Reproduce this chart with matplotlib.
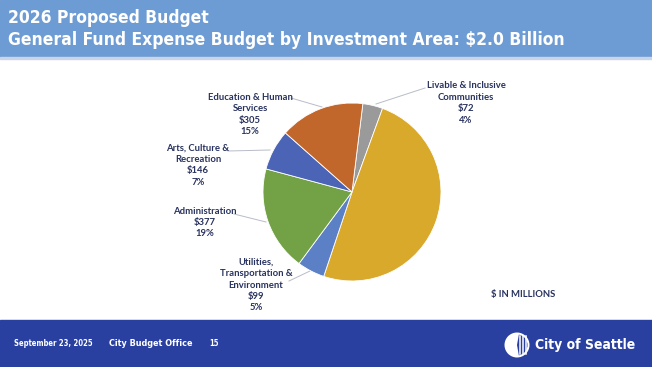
import matplotlib
matplotlib.use("Agg")
import matplotlib.pyplot as plt
from matplotlib.patches import Rectangle, Circle, Wedge

# data ($ millions)
areas = ['Livable & Inclusive\nCommunities', 'Public Safety',
         'Utilities,\nTransportation &\nEnvironment', 'Administration',
         'Arts, Culture &\nRecreation', 'Education & Human\nServices']
amounts = [72, 982, 99, 377, 146, 305]
shares = [4, 50, 5, 19, 7, 15]
colors = ['#9a9a9a', '#d9a92c', '#5b80c6', '#72a146', '#4b64b6', '#c2672c']

title1 = '2026 Proposed Budget'
title2 = 'General Fund Expense Budget by Investment Area: $2.0 Billion'

W, H = 652, 367
fig = plt.figure(figsize=(W / 100, H / 100), dpi=100)
bg = fig.add_axes([0, 0, 1, 1])
bg.set_xlim(0, W)
bg.set_ylim(H, 0)
bg.axis('off')

navy = '#28325f'
cond = ['DejaVu Sans']
lab = ['Lato', 'DejaVu Sans']
footblue = '#2a40a0'

# header / footer bars
bg.add_patch(Rectangle((0, 0), W, 57, color='#6d9bd3', zorder=0))
bg.add_patch(Rectangle((0, 57), W, 1.5, color='#c9d6ea', zorder=0))
bg.add_patch(Rectangle((0, 320), W, 47, color=footblue, zorder=0))
bg.text(8, 18, title1, color='white', fontsize=12.5, fontweight='bold',
        family=cond, fontstretch='condensed', va='center', ha='left')
bg.text(8, 40, title2, color='white', fontsize=12.5, fontweight='bold',
        family=cond, fontstretch='condensed', va='center', ha='left')

bg.text(14, 344, 'September 23, 2025', color='white', fontsize=5.5,
        fontweight='bold', family=cond, fontstretch='condensed', va='center')
bg.text(109, 344, 'City Budget Office', color='white', fontsize=6.5,
        fontweight='bold', family=cond, fontstretch='condensed', va='center')
bg.text(209, 344, '15', color='white', fontsize=5.5,
        fontweight='bold', family=cond, fontstretch='condensed', va='center')

# simple seattle logo mark
bg.add_patch(Circle((517, 345), 12.5, facecolor='white', edgecolor='none'))
bg.add_patch(Wedge((517, 345), 10.5, -80, 80, facecolor=footblue, edgecolor='none'))
for dx in (3, 6, 9):
    bg.plot([517 + dx, 517 + dx], [336, 354], color='white', lw=1.1)
bg.text(535, 345, 'City of Seattle', color='white', fontsize=10,
        fontweight='bold', family=cond, fontstretch='condensed', va='center')

# pie
cx, cy, r = 352, 192, 89
pax = fig.add_axes([(cx - r) / W, (H - cy - r) / H, 2 * r / W, 2 * r / H])
wedges, _ = pax.pie(amounts, colors=colors, startangle=83, counterclock=False,
                    wedgeprops=dict(linewidth=0.6, edgecolor='white'))
pax.set_xlim(-1, 1)
pax.set_ylim(-1, 1)
pax.set_aspect('equal')

# labels (pixel positions, centred), leader line ends
label_pos = [(466, 86), (388, 199), (256, 262), (205, 211), (198, 148), (250, 97)]
leaders = [((425, 88), (376, 104)), None, ((289, 281), (310, 271)),
           ((234, 214), (266, 222)), ((228, 151), (270, 150)),
           ((291, 98), (322, 107))]
for i, (name, amt, pct) in enumerate(zip(areas, amounts, shares)):
    x, y = label_pos[i]
    lines = name.split('\n') + ['$%d' % amt, '%d%%' % pct]
    for k, line in enumerate(lines):
        bg.text(x, y + k * 11.5, line, color=navy, fontsize=6.8,
                fontweight='bold', family=lab, ha='center', va='center')
    if leaders[i]:
        (x0, y0), (x1, y1) = leaders[i]
        bg.plot([x0, x1], [y0, y1], color='#b8bcc8', lw=0.7)

bg.text(523, 294, '$ IN MILLIONS', color=navy, fontsize=6.8,
        fontweight='bold', family=lab, ha='center', va='center')

fig.savefig('out.png', dpi=100)
